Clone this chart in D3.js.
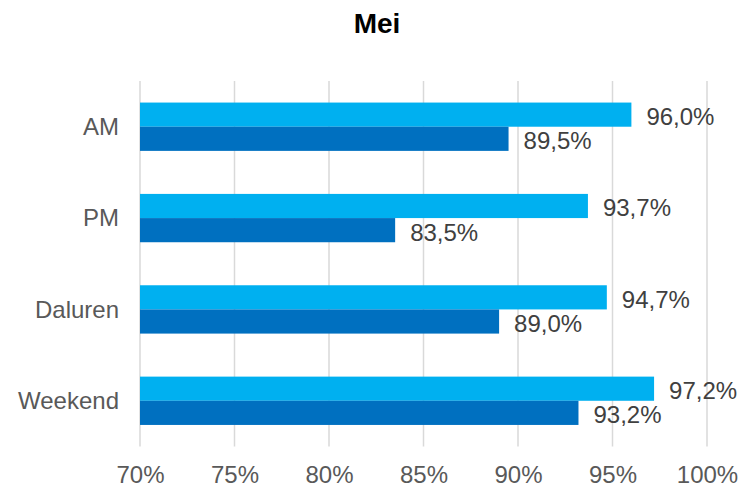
<!DOCTYPE html>
<html>
<head>
<meta charset="utf-8">
<script src="https://cdn.jsdelivr.net/npm/d3@7"></script>
<style>
  html, body { margin: 0; padding: 0; background: #ffffff; }
  svg { display: block; }
  text { font-family: "Liberation Sans", Arial, sans-serif; }
</style>
</head>
<body>
<div id="chart"></div>
<script>
const title = "Mei";
const categories = ["AM", "PM", "Daluren", "Weekend"];
const seriesLight = [96.0, 93.7, 94.7, 97.2];
const seriesDark = [89.5, 83.5, 89.0, 93.2];
const seriesNames = ["Serie 1", "Serie 2"];
const tickValues = [70, 75, 80, 85, 90, 95, 100];
const xDomain = [70, 100];

const W = 739, H = 486;
const margin = { top: 81, right: 32, bottom: 39.5, left: 140 };
const colors = ["#00B0F0", "#0070C0"];

const svg = d3.select("#chart").append("svg")
  .attr("width", W).attr("height", H);

const x = d3.scaleLinear().domain(xDomain).range([margin.left, W - margin.right]);
const y = d3.scaleBand().domain(categories)
  .range([margin.top, H - margin.bottom])
  .paddingInner(0.471).paddingOuter(0.236);
const sub = d3.scaleBand().domain(seriesNames).range([0, y.bandwidth()]);

const fmt = v => d3.format(".1f")(v).replace(".", ",") + "%";

// Title
svg.append("text")
  .attr("x", 377).attr("y", 33.3)
  .attr("text-anchor", "middle")
  .attr("font-size", 28).attr("font-weight", "bold")
  .attr("fill", "#000")
  .text(title);

// Gridlines
svg.append("g")
  .selectAll("line").data(tickValues).join("line")
  .attr("x1", d => x(d)).attr("x2", d => x(d))
  .attr("y1", margin.top).attr("y2", H - margin.bottom)
  .attr("stroke", "#d9d9d9").attr("stroke-width", 1.5);

// X axis
const xAxis = svg.append("g")
  .attr("transform", `translate(0,${H - margin.bottom})`)
  .call(d3.axisBottom(x).tickValues(tickValues).tickSize(0).tickFormat(d => d + "%"));
xAxis.select(".domain").remove();
xAxis.selectAll("text")
  .attr("y", 36).attr("dy", 0)
  .attr("font-size", 24).attr("fill", "#595959")
  .style("font-family", '"Liberation Sans", Arial, sans-serif');

// Y axis
const yAxis = svg.append("g")
  .attr("transform", `translate(${margin.left},0)`)
  .call(d3.axisLeft(y).tickSize(0).tickPadding(21));
yAxis.select(".domain").remove();
yAxis.selectAll("text")
  .attr("dy", "0.35em")
  .attr("font-size", 24).attr("fill", "#595959")
  .style("font-family", '"Liberation Sans", Arial, sans-serif');

const data = categories.map((c, i) => ({
  cat: c,
  vals: [
    { s: seriesNames[0], v: seriesLight[i], c: colors[0] },
    { s: seriesNames[1], v: seriesDark[i], c: colors[1] }
  ]
}));

const groups = svg.append("g").selectAll("g").data(data).join("g")
  .attr("transform", d => `translate(0,${y(d.cat)})`);

groups.selectAll("rect").data(d => d.vals).join("rect")
  .attr("x", x(xDomain[0]))
  .attr("y", d => sub(d.s))
  .attr("width", d => x(d.v) - x(xDomain[0]))
  .attr("height", sub.bandwidth())
  .attr("fill", d => d.c);

groups.selectAll("text.lbl").data(d => d.vals).join("text")
  .attr("class", "lbl")
  .attr("x", d => x(d.v) + 15)
  .attr("y", d => sub(d.s) + sub.bandwidth() / 2 + 2)
  .attr("dy", "0.35em")
  .attr("font-size", 24).attr("fill", "#404040")
  .text(d => fmt(d.v));
</script>
</body>
</html>
